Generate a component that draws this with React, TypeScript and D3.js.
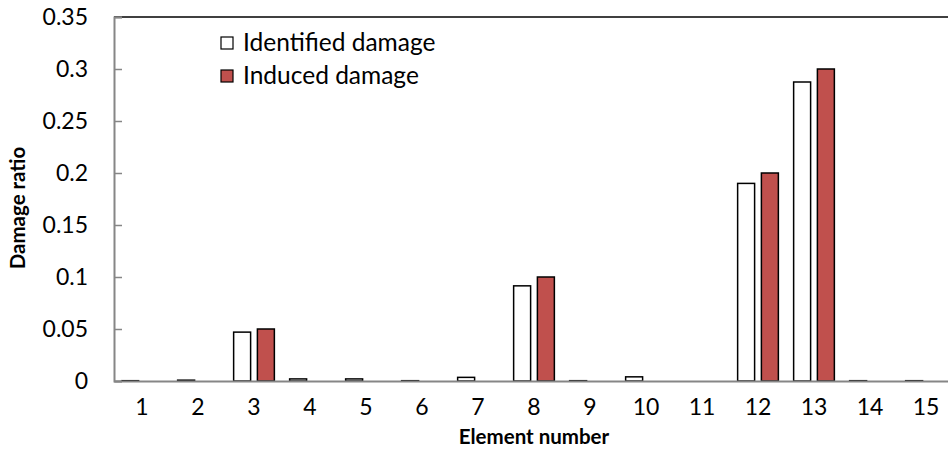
import React, { useEffect, useRef } from 'react';
import * as d3 from 'd3';

// element numbers along the x axis
const elements = ['1', '2', '3', '4', '5', '6', '7', '8', '9', '10', '11', '12', '13', '14', '15'];
const identified = [0.0003, 0.0008, 0.047, 0.002, 0.002, 0.0003, 0.0035, 0.0915, 0.0003, 0.004, 0, 0.19, 0.2875, 0.0003, 0.0003];
const induced = [0, 0, 0.05, 0, 0, 0, 0, 0.1, 0, 0, 0, 0.2, 0.3, 0, 0];
const yTicks = [0, 0.05, 0.1, 0.15, 0.2, 0.25, 0.3, 0.35];
const seriesNames = ['Identified damage', 'Induced damage'];
const seriesColors = ['#ffffff', '#c0504d'];

const font = "Lato, 'Open Sans', sans-serif";
const fs = 23;
const titleFs = 20.5;

const App: React.FC = () => {
  const ref = useRef<SVGSVGElement>(null);

  useEffect(() => {
    if (!ref.current) return;
    const svg = d3.select(ref.current);
    svg.selectAll('*').remove();

    const margin = { left: 114, top: 17, right: -6, bottom: 89 };
    const width = 948, height = 470;
    const innerW = width - margin.left - margin.right;
    const innerH = height - margin.top - margin.bottom;

    const g = svg.append('g').attr('transform', `translate(${margin.left},${margin.top})`);

    const x = d3.scaleBand().domain(elements).range([0, innerW]);
    const y = d3.scaleLinear().domain([0, 0.35]).range([innerH, 0]);

    // Excel-like grouped bars: gap width ~90%, overlap -40%
    const bw = x.bandwidth() / (2.4 + 0.9);
    const groupW = bw * 2.4;
    const off = (x.bandwidth() - groupW) / 2;

    // top border
    g.append('line').attr('x1', 0).attr('x2', innerW).attr('y1', 0).attr('y2', 0)
      .attr('stroke', '#000').attr('stroke-width', 1.5);

    [identified, induced].forEach((vals, si) => {
      g.selectAll(`.bar${si}`)
        .data(vals)
        .enter()
        .append('rect')
        .attr('x', (d, i) => (x(elements[i]) ?? 0) + off + si * bw * 1.4)
        .attr('y', d => y(d))
        .attr('width', bw)
        .attr('height', d => innerH - y(d))
        .attr('fill', seriesColors[si])
        .attr('stroke', '#000')
        .attr('stroke-width', 1.5);
    });

    // y axis
    const ya = g.append('g')
      .call(d3.axisLeft(y).tickValues(yTicks).tickSize(-8).tickPadding(26).tickFormat(d => String(d)));
    ya.select('.domain').attr('stroke', '#868686').attr('stroke-width', 2);
    ya.selectAll('.tick line').attr('stroke', '#868686').attr('stroke-width', 1.5);
    ya.selectAll('text').attr('font-family', font).attr('font-size', fs).attr('fill', '#000');

    // x axis
    const xa = g.append('g').attr('transform', `translate(0,${innerH})`)
      .call(d3.axisBottom(x).tickSize(0).tickPadding(18));
    xa.select('.domain').attr('stroke', '#868686').attr('stroke-width', 2);
    xa.selectAll('text').attr('font-family', font).attr('font-size', fs).attr('fill', '#000');

    // axis titles
    svg.append('text')
      .attr('x', margin.left + 420).attr('y', 444)
      .attr('text-anchor', 'middle')
      .attr('font-family', font).attr('font-size', titleFs).attr('font-weight', 'bold')
      .text('Element number');
    svg.append('text')
      .attr('transform', `translate(25,${208}) rotate(-90)`)
      .attr('text-anchor', 'middle')
      .attr('font-family', font).attr('font-size', titleFs).attr('font-weight', 'bold')
      .text('Damage ratio');

    // legend
    const legend = svg.append('g').selectAll('g')
      .data(seriesNames)
      .enter()
      .append('g')
      .attr('transform', (d, i) => `translate(221,${37 + i * 33})`);
    legend.append('rect')
      .attr('width', 12).attr('height', 12)
      .attr('fill', (d, i) => seriesColors[i])
      .attr('stroke', '#000').attr('stroke-width', 1.2);
    legend.append('text')
      .attr('x', 22).attr('y', 14)
      .attr('font-family', font).attr('font-size', 24.5)
      .text(d => d);
  }, []);

  return <svg ref={ref} width={948} height={470} style={{ position: 'absolute', left: 0, top: 0, background: '#fff' }} />;
};

export default App;
